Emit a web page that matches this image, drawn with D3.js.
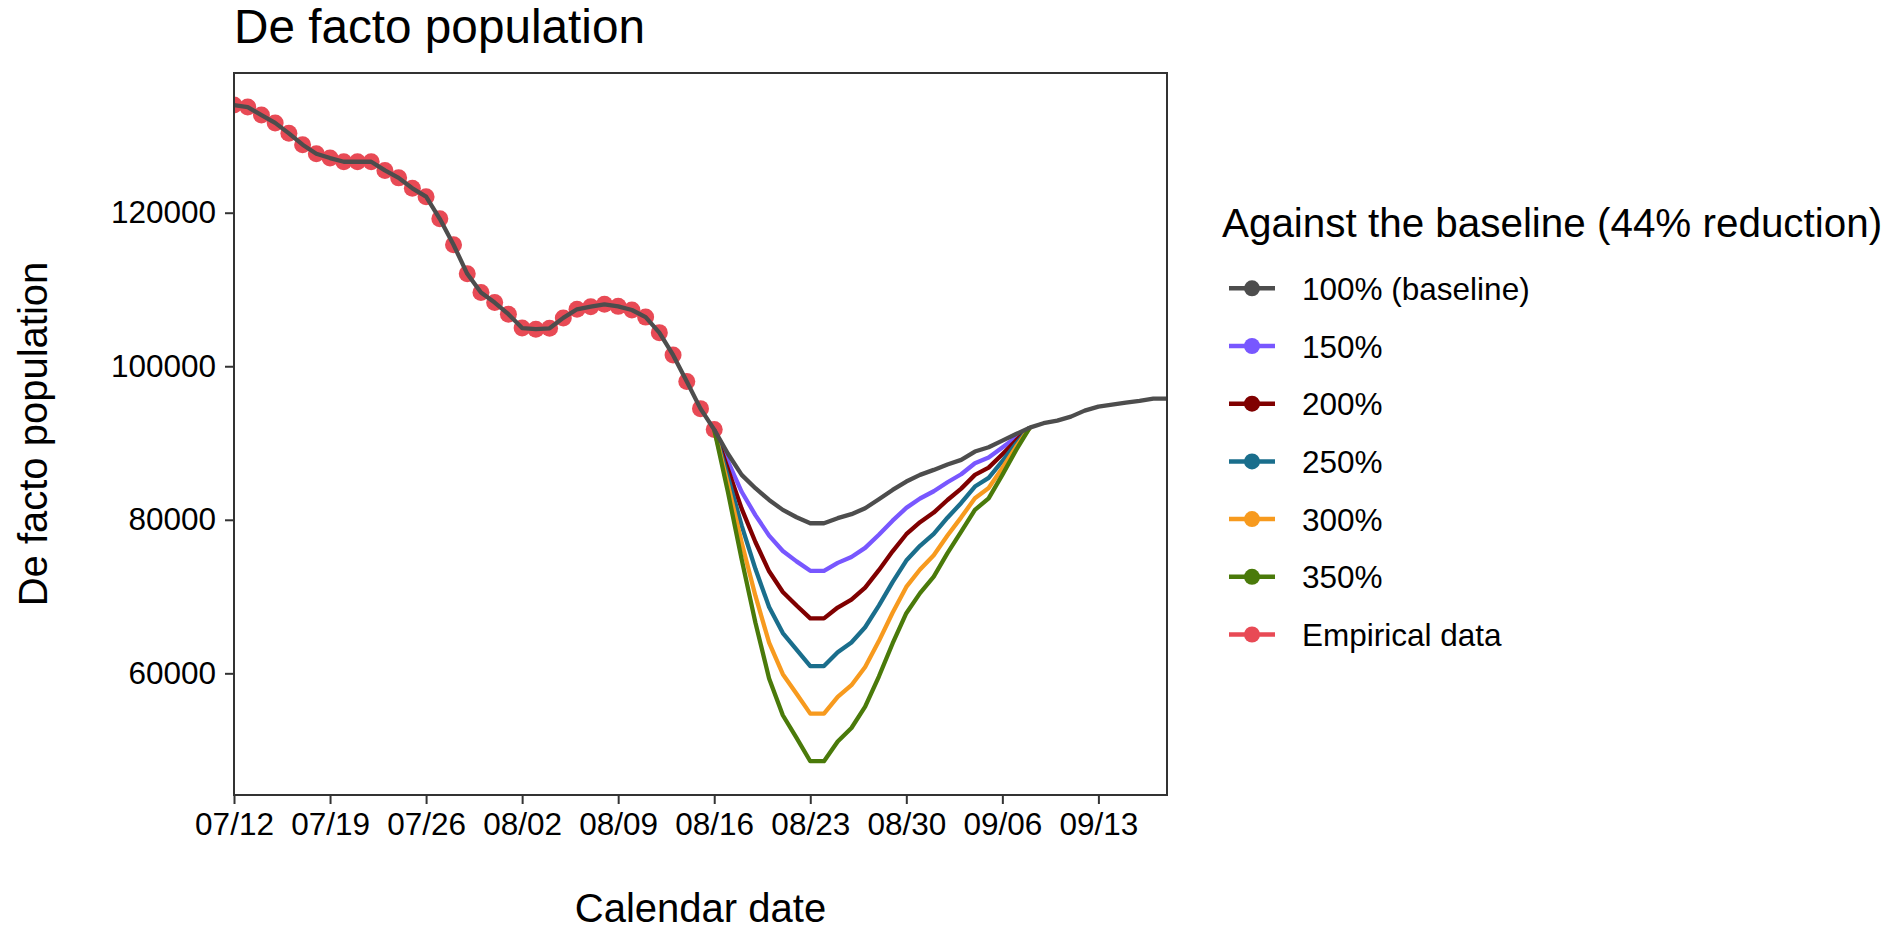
<!DOCTYPE html>
<html><head><meta charset="utf-8">
<script src="https://cdn.jsdelivr.net/npm/d3@7"></script>
<style>
body{margin:0;background:#fff;}
svg{display:block;}
text{font-family:"Liberation Sans", Arial, sans-serif;}
</style>
</head><body>
<svg id="chart" width="1895" height="933"></svg>
<script>
// ---------------- data ----------------
const empiricalStart = "2020-07-12";
const empiricalValues = [134020, 133760, 132720, 131700, 130340, 128860, 127690, 127120, 126640, 126640,
  126640, 125510, 124540, 123180, 122090, 119200, 115830, 112040, 109600, 108300,
  106780, 104980, 104830, 104940, 106300, 107420, 107760, 108070, 107800, 107330,
  106400, 104380, 101470, 98000, 94480, 91750];

const projectionStart = "2020-08-16";
const baselineProjection = [91750, 88600, 85850, 84110, 82590, 81290, 80330, 79550, 79550, 80210,
  80730, 81510, 82680, 83890, 84980, 85850, 86500, 87200, 87800, 88890,
  89450, 90310, 91180, 92000, 92580, 92920, 93440, 94220, 94740, 95000,
  95260, 95480, 95780, 95780];

const s150 = [91750, 87600, 83650, 80610, 77940, 75940, 74580, 73350, 73350, 74390, 75160, 76340,
  78060, 79890, 81550, 82770, 83720, 84890, 85930, 87370, 88120, 89420, 90760, 92000];
const s200 = [91750, 86600, 81450, 77110, 73290, 70590, 68830, 67150, 67150, 68570, 69590, 71170,
  73440, 75890, 78120, 79690, 80940, 82580, 84060, 85850, 86790, 88530, 90340, 92000];
const s250 = [91750, 85600, 79250, 73610, 68640, 65240, 63080, 60950, 60950, 62750, 64020, 66000,
  68820, 71890, 74690, 76610, 78160, 80270, 82190, 84330, 85460, 87640, 89920, 92000];
const s300 = [91750, 84600, 77050, 70110, 63990, 59890, 57330, 54750, 54750, 56930, 58450, 60830,
  64200, 67890, 71260, 73530, 75380, 77960, 80320, 82810, 84130, 86750, 89500, 92000];
const s350 = [91750, 83600, 74850, 66610, 59340, 54540, 51580, 48550, 48550, 51110, 52880, 55660,
  59580, 63890, 67830, 70450, 72600, 75650, 78450, 81290, 82800, 85860, 89080, 92000];

const legendLabels = ["100% (baseline)", "150%", "200%", "250%", "300%", "350%", "Empirical data"];
const seriesColors = ["#4D4D4D", "#7857FF", "#800000", "#1A6E8C", "#F79A1E", "#4A7A0A", "#E84A55"];
const xTickLabels = ["07/12", "07/19", "07/26", "08/02", "08/09", "08/16", "08/23", "08/30", "09/06", "09/13"];
const yTickValues = [60000, 80000, 100000, 120000];
const xDomainDates = ["2020-07-12", "2020-09-18"];
const yDomain = [44150, 138200];

// ---------------- layout ----------------
const panel = {left: 234, right: 1167, top: 73, bottom: 795};
const parse = d3.timeParse("%Y-%m-%d");
const svg = d3.select("#chart");

const x = d3.scaleTime().domain(xDomainDates.map(parse)).range([panel.left, panel.right]);
const y = d3.scaleLinear().domain(yDomain).range([panel.bottom, panel.top]);

const toPoints = (start, vals) => vals.map((v, i) => ({date: d3.timeDay.offset(parse(start), i), value: v}));
const empirical = toPoints(empiricalStart, empiricalValues);
const baseline = empirical.slice(0, empirical.length - 1).concat(toPoints(projectionStart, baselineProjection));
const scenarios = [s150, s200, s250, s300, s350].map(a => toPoints(projectionStart, a));

const line = d3.line().x(d => x(d.date)).y(d => y(d.value));

// clip
svg.append("clipPath").attr("id", "clip").append("rect")
  .attr("x", panel.left).attr("y", panel.top)
  .attr("width", panel.right - panel.left).attr("height", panel.bottom - panel.top);

const plot = svg.append("g").attr("clip-path", "url(#clip)");

// empirical points
plot.selectAll("circle.emp").data(empirical).join("circle")
  .attr("class", "emp")
  .attr("cx", d => x(d.date)).attr("cy", d => y(d.value)).attr("r", 8.5)
  .attr("fill", seriesColors[6]);

// scenario lines
scenarios.forEach((s, i) => {
  plot.append("path").datum(s).attr("d", line)
    .attr("fill", "none").attr("stroke", seriesColors[i + 1])
    .attr("stroke-width", 4.3).attr("stroke-linejoin", "round").attr("stroke-linecap", "butt");
});

// baseline line
plot.append("path").datum(baseline).attr("d", line)
  .attr("fill", "none").attr("stroke", seriesColors[0])
  .attr("stroke-width", 4.3).attr("stroke-linejoin", "round");

// panel border
svg.append("rect").attr("x", panel.left).attr("y", panel.top)
  .attr("width", panel.right - panel.left).attr("height", panel.bottom - panel.top)
  .attr("fill", "none").attr("stroke", "#333333").attr("stroke-width", 2);

// x axis
const fmt = d3.timeFormat("%m/%d");
const xTicks = xTickLabels.map(l => parse("2020-" + l.replace("/", "-")));
const xAxis = svg.append("g").attr("transform", `translate(0,${panel.bottom})`)
  .call(d3.axisBottom(x).tickValues(xTicks).tickFormat(fmt).tickSize(9).tickSizeOuter(0).tickPadding(9));
xAxis.select(".domain").remove();
xAxis.selectAll(".tick line").attr("stroke", "#333333").attr("stroke-width", 2);
xAxis.selectAll(".tick text").attr("font-size", 31.5).attr("fill", "#000")
  .attr("font-family", '"Liberation Sans", Arial, sans-serif');

// y axis
const yAxis = svg.append("g").attr("transform", `translate(${panel.left},0)`)
  .call(d3.axisLeft(y).tickValues(yTickValues).tickFormat(d3.format("d")).tickSize(9).tickSizeOuter(0).tickPadding(9));
yAxis.select(".domain").remove();
yAxis.selectAll(".tick line").attr("stroke", "#333333").attr("stroke-width", 2);
yAxis.selectAll(".tick text").attr("font-size", 31.5).attr("fill", "#000")
  .attr("font-family", '"Liberation Sans", Arial, sans-serif');

// titles
svg.append("text").attr("x", panel.left).attr("y", 43).attr("font-size", 47.7).attr("fill", "#000")
  .text("De facto population");
svg.append("text").attr("x", (panel.left + panel.right) / 2).attr("y", 922)
  .attr("text-anchor", "middle").attr("font-size", 40).attr("fill", "#000").text("Calendar date");
svg.append("text").attr("transform", `translate(47,${(panel.top + panel.bottom) / 2}) rotate(-90)`)
  .attr("text-anchor", "middle").attr("font-size", 40).attr("fill", "#000").text("De facto population");

// legend
const lg = svg.append("g");
lg.append("text").attr("x", 1222).attr("y", 237).attr("font-size", 40.4).attr("fill", "#000")
  .text("Against the baseline (44% reduction)");
legendLabels.forEach((lab, i) => {
  const cy = 288.3 + i * 57.7;
  lg.append("line").attr("x1", 1229).attr("x2", 1275).attr("y1", cy).attr("y2", cy)
    .attr("stroke", seriesColors[i]).attr("stroke-width", 4.5);
  lg.append("circle").attr("cx", 1252).attr("cy", cy).attr("r", 8).attr("fill", seriesColors[i]);
  lg.append("text").attr("x", 1302).attr("y", cy + 11.5).attr("font-size", 31.5).attr("fill", "#000").text(lab);
});
</script>
</body></html>
